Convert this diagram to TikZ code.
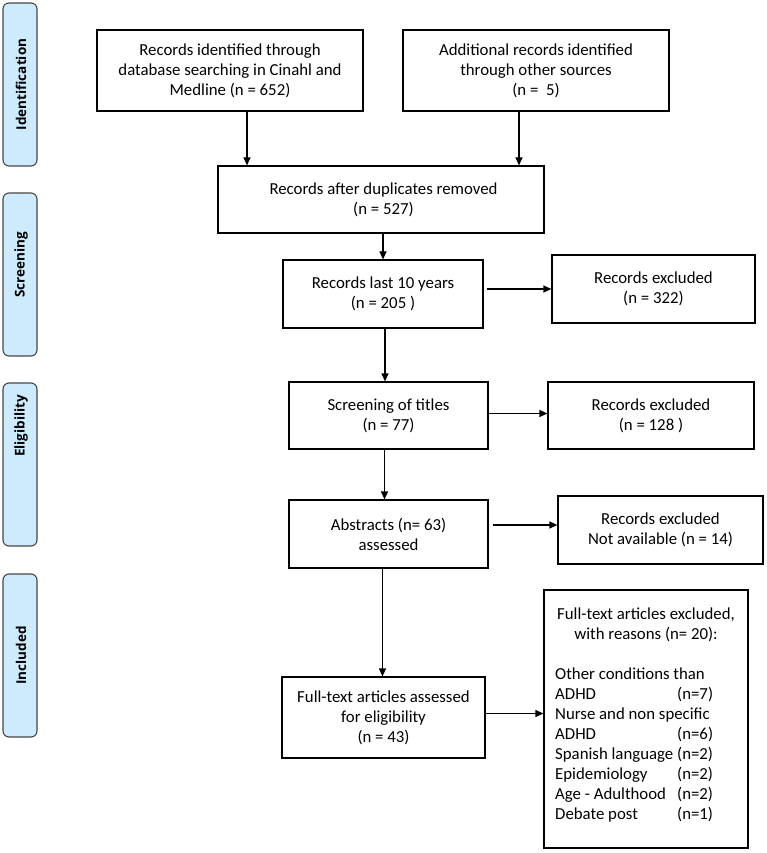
\documentclass[tikz,border=0pt]{standalone}
\usepackage{fontspec}
\setmainfont{Carlito}
\newfontfamily\barfont{Open Sans}
\usetikzlibrary{arrows.meta}
\definecolor{barfill}{RGB}{206,234,253}
\definecolor{barline}{RGB}{70,70,70}
\begin{document}
\begin{tikzpicture}[x=1pt,y=-1pt,
  txt/.style={font=\fontsize{16.8}{20}\selectfont},
  box/.style={draw=black, line width=1.2pt, inner sep=0pt, align=center, txt},
  sidebar/.style={draw=barline, fill=barfill, line width=1.1pt, rounded corners=6pt,
    minimum width=34pt, minimum height=163pt, inner sep=0pt},
  sidetext/.style={rotate=90, font=\barfont\fontsize{13.5}{16}\selectfont\bfseries},
  arr/.style={line width=1.2pt, -{Triangle[length=8pt,width=7pt]}}
]
\useasboundingbox (0,0) rectangle (767,853);

% side bars
\node[sidebar] (s1) at (20,84.5) {};
\node[sidetext] (t1) at (21,84.5) {Identification};
\node[sidebar] (s2) at (20,274.5) {};
\node[sidetext] (t2) at (21,265) {Screening};
\node[sidebar] (s3) at (20,464.5) {};
\node[sidetext] (t3) at (21,426) {Eligibility};
\node[sidebar] (s4) at (20,655.5) {};
\node[sidetext] (t4) at (21,655.5) {Included};

% main boxes
\node[box, minimum width=266pt, minimum height=81pt] (b1) at (230,70.5)
  {Records identified through\\database searching in Cinahl and\\Medline (n = 652)};
\node[box, minimum width=266pt, minimum height=81pt] (b2) at (536,70.5)
  {Additional records identified\\through other sources\\(n =\ \ 5)};
\node[box, minimum width=326pt, minimum height=67pt] (b3) at (381,199.5)
  {\hspace*{5pt}Records after duplicates removed\\\hspace*{5pt}(n = 527)};
\node[box, minimum width=200pt, minimum height=68pt] (b4) at (383,294)
  {Records last 10 years\\(n = 205 )};
\node[box, minimum width=203pt, minimum height=68pt] (e1) at (653.5,289)
  {Records excluded\\(n = 322)};
\node[box, minimum width=199pt, minimum height=67pt] (b5) at (388.5,415.5)
  {Screening of titles\\(n = 77)};
\node[box, minimum width=206pt, minimum height=67pt] (e2) at (651,415.5)
  {Records excluded\\(n = 128 )};
\node[box, minimum width=199pt, minimum height=68pt] (b6) at (388.5,534)
  {Abstracts (n= 63)\\assessed};
\node[box, minimum width=205pt, minimum height=68pt] (e3) at (660.5,530)
  {Records excluded\\Not available (n = 14)};
\node[box, minimum width=203pt, minimum height=81pt] (b7) at (383.5,717.5)
  {Full-text articles assessed\\for eligibility\\(n = 43)};
\node[box, minimum width=204pt, minimum height=258pt] (e4) at (646,719) {};
\node[txt, align=center, inner sep=0pt] (e4h) at (646,625)
  {Full-text articles excluded,\\with reasons (n= 20):};
\node[txt, align=left, inner sep=0pt, anchor=west] (e4l) at (555,745)
  {Other conditions than\\
   \makebox[122pt][l]{ADHD}(n=7)\\
   Nurse and non specific\\
   \makebox[122pt][l]{ADHD}(n=6)\\
   \makebox[122pt][l]{Spanish language}(n=2)\\
   \makebox[122pt][l]{Epidemiology}(n=2)\\
   \makebox[122pt][l]{Age - Adulthood}(n=2)\\
   \makebox[122pt][l]{Debate post}(n=1)};

% arrows
\draw[arr] ([xshift=17pt]b1.south) -- ([xshift=17pt]b1.south |- b3.north);
\draw[arr] ([xshift=-17pt]b2.south) -- ([xshift=-17pt]b2.south |- b3.north);
\draw[arr] (b3.south -| b4.north) -- (b4.north);
\draw[arr] ([xshift=2pt]b4.south) -- ([xshift=2pt]b4.south |- b5.north);
\draw[arr] ([xshift=3pt]b4.east |- e1.west) -- (e1.west);
\draw[arr] ([xshift=-4pt]b5.south) -- ([xshift=-4pt]b5.south |- b6.north);
\draw[arr] ([yshift=2pt]b5.east) -- ([yshift=2pt]b5.east -| e2.west);
\draw[arr] ([xshift=-6pt]b6.south) -- ([xshift=-6pt]b6.south |- b7.north);
\draw[arr] ([xshift=4pt,yshift=9pt]b6.east) -- ([yshift=9pt]b6.east -| e3.west);
\draw[arr] ([yshift=4pt]b7.east) -- ([yshift=4pt]b7.east -| e4.west);
\end{tikzpicture}
\end{document}
